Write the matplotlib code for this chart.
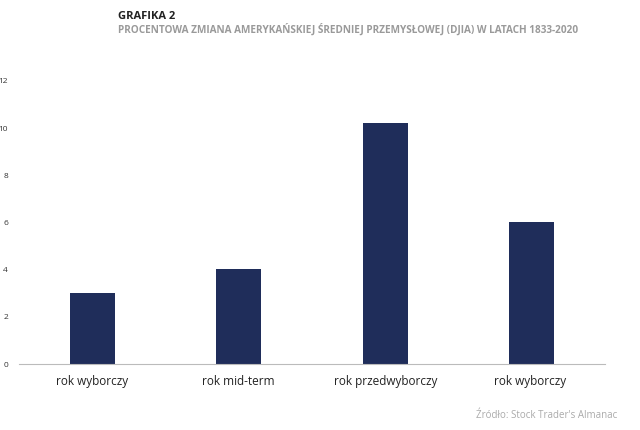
import matplotlib.pyplot as plt

categories = ['rok wyborczy', 'rok mid-term', 'rok przedwyborczy', 'rok wyborczy ']
values = [3.0, 4.03, 10.22, 6.02]
yticks = [0, 2, 4, 6, 8, 10, 12]

plt.rcParams['font.family'] = ['Open Sans', 'DejaVu Sans']

fig = plt.figure(figsize=(6.4, 4.3), dpi=100)
ax = fig.add_axes([0.03, 0.153, 0.915, 0.659])

ax.bar(range(len(values)), values, width=0.31, color='#1f2d5a')
ax.set_xlim(-0.5, 3.5)
ax.set_ylim(0, 12)
ax.set_yticks(yticks)
ax.set_yticklabels([str(t) for t in yticks], fontsize=6, color='#333333')
ax.set_xticks(range(len(categories)))
ax.set_xticklabels(categories, fontsize=8.5, color='#222222')
ax.tick_params(axis='both', length=0)
ax.tick_params(axis='y', pad=8)
ax.tick_params(axis='x', pad=8)
for s in ['top', 'right', 'left']:
    ax.spines[s].set_visible(False)
ax.spines['bottom'].set_color('#bbbbbb')

fig.text(0.185, 0.975, 'GRAFIKA 2', fontsize=8, fontweight='bold', color='#222222', va='top')
fig.text(0.185, 0.945, 'PROCENTOWA ZMIANA AMERYKAŃSKIEJ ŚREDNIEJ PRZEMYSŁOWEJ (DJIA) W LATACH 1833-2020',
         fontsize=7.2, fontweight='bold', color='#9a9a9a', va='top')
fig.text(0.965, 0.02, 'Źródło: Stock Trader\'s Almanac', fontsize=7, color='#aaaaaa', ha='right', va='bottom')

fig.savefig('out.png', dpi=100)
